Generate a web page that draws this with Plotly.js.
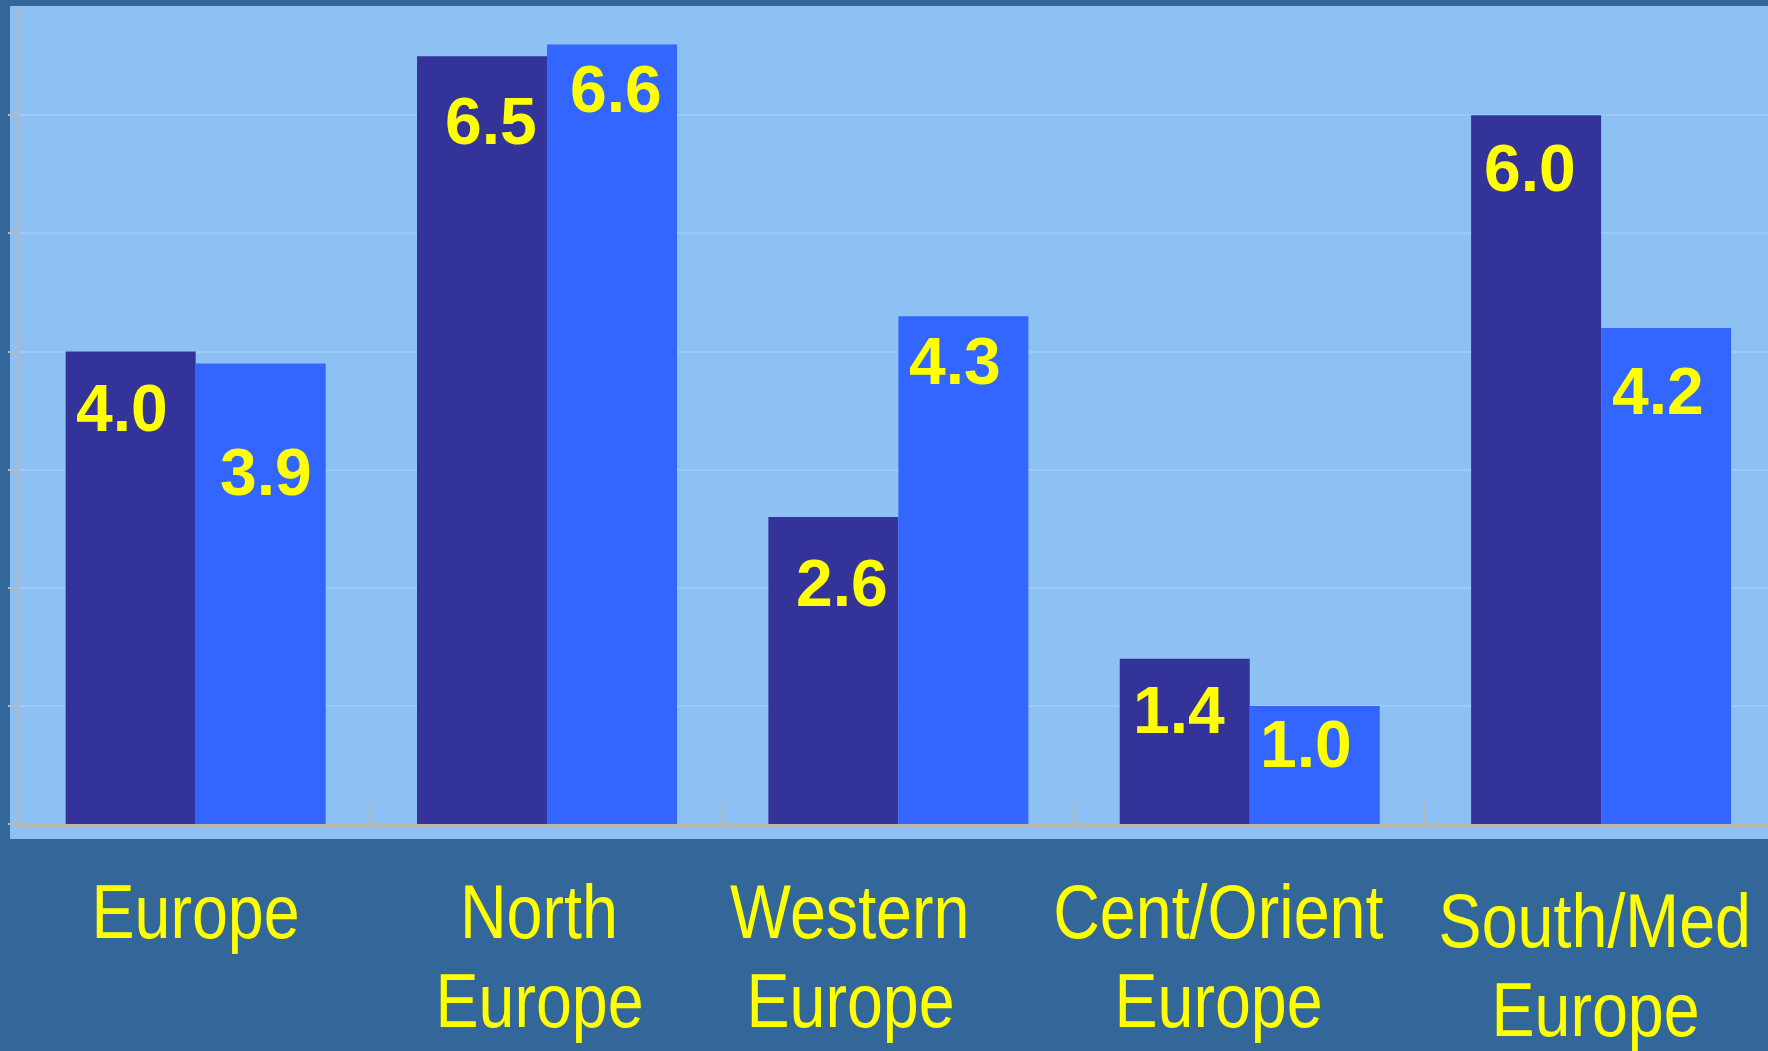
<!DOCTYPE html>
<html>
<head>
<meta charset="utf-8">
<script src="https://cdn.plot.ly/plotly-3.0.1.min.js"></script>
<style>
  html, body { margin: 0; padding: 0; background: #336699; }
  #chart { width: 1768px; height: 1051px; }
</style>
</head>
<body>
<div id="chart"></div>
<script>
// ---- data ----
const categories = ["Europe", "North Europe", "Western Europe", "Cent/Orient Europe", "South/Med Europe"];
const seriesDark = [4.0, 6.5, 2.6, 1.4, 6.0];
const seriesLight = [3.9, 6.6, 4.3, 1.0, 4.2];

// ---- label placement (pixels) ----
const darkNudge = [[-9, 56.5], [8.5, 65], [8.5, 66], [-6, 51.5], [-6, 52.5]];
const lightNudge = [[5, 109], [4, 44], [-8.5, 44.5], [-9, 38.5], [-8, 63.5]];
const catLabelShiftX = [0, -8, -48, -31, -6];
const catLabelShiftY = [0, 0, 0, 0, -9];
const NARROW = 0.85; // horizontal condensing of the category labels (narrow face look)

const yellow = "#FFFF00";
const gray = "#B8B8B8";
const BARGAP = 0.26;
const half = (1 - BARGAP) / 4; // centre offset of each bar in a group

const traces = [
  { type: "bar", name: "Series 1", x: categories, y: seriesDark,
    marker: { color: "#333399", line: { width: 0 } }, hoverinfo: "x+y" },
  { type: "bar", name: "Series 2", x: categories, y: seriesLight,
    marker: { color: "#3366FF", line: { width: 0 } }, hoverinfo: "x+y" }
];

const annotations = [];
const valueFont = { family: "Liberation Sans, Arial, sans-serif", size: 66, color: yellow, weight: "bold" };
[[seriesDark, -half, darkNudge], [seriesLight, half, lightNudge]].forEach(([vals, off, nudge]) => {
  vals.forEach((v, i) => {
    annotations.push({
      xref: "x", yref: "y", x: i + off, y: v,
      text: "<b>" + v.toFixed(1) + "</b>", showarrow: false,
      xanchor: "center", yanchor: "middle",
      xshift: nudge[i][0], yshift: -nudge[i][1],
      font: valueFont
    });
  });
});
const firstLabelIndex = annotations.length;

const labelFont = { family: "Liberation Sans, Arial, sans-serif", size: 76, color: yellow };
categories.forEach((c, i) => {
  const lines = c.split(" ");
  lines.forEach((ln, j) => {
    annotations.push({
      xref: "x", yref: "paper", x: i, y: 0,
      text: ln, showarrow: false, xanchor: "center", yanchor: "middle",
      xshift: catLabelShiftX[i], yshift: -87.7 - 89 * j + catLabelShiftY[i],
      font: labelFont
    });
  });
});

const layout = {
  width: 1768, height: 1051,
  margin: { l: 20, r: 0, t: 6, b: 227, pad: 0 },
  paper_bgcolor: "#336699",
  plot_bgcolor: "rgba(0,0,0,0)",
  showlegend: false,
  barmode: "group", bargap: BARGAP, bargroupgap: 0,
  xaxis: {
    type: "category", range: [-0.5, 4.475],
    tickson: "boundaries", ticks: "inside", ticklen: 21, tickwidth: 2, tickcolor: gray,
    showticklabels: false, showgrid: false, zeroline: false,
    showline: true, linecolor: gray, linewidth: 2.5, fixedrange: true
  },
  xaxis2: {
    overlaying: "x", anchor: "y", range: [-0.5, 4.475],
    tickmode: "array", tickvals: [0, 1, 2, 3, 4],
    ticks: "inside", ticklen: 16, tickwidth: 2, tickcolor: gray,
    showticklabels: false, showgrid: false, zeroline: false, showline: false
  },
  yaxis: {
    range: [0, 6.926], dtick: 1, tick0: 0,
    ticks: "outside", ticklen: 10, tickwidth: 2, tickcolor: gray,
    showticklabels: false, showgrid: true, gridcolor: "#9ACBFB", gridwidth: 2,
    zeroline: false, showline: true, linecolor: gray, linewidth: 2
  },
  shapes: [{
    type: "rect", xref: "paper", yref: "paper", layer: "below",
    x0: -0.00572, x1: 1.01, y0: -0.01834, y1: 1,
    fillcolor: "#8EC1F3", line: { width: 0 }
  }],
  annotations: annotations
};

Plotly.newPlot("chart", traces, layout, { staticPlot: true, displayModeBar: false }).then(gd => {
  // condense the category labels to mimic a narrow typeface
  gd.querySelectorAll("g.annotation").forEach(g => {
    const idx = +g.getAttribute("data-index");
    if (idx < firstLabelIndex) return;
    const t = g.querySelector("text.annotation-text");
    if (!t) return;
    const w = t.getComputedTextLength();
    const nw = w * NARROW;
    t.setAttribute("textLength", nw.toFixed(1));
    t.setAttribute("lengthAdjust", "spacingAndGlyphs");
    // keep the (invisible) annotation box in step with the condensed text
    const r = g.querySelector("rect.bg");
    if (r) {
      const rw = +r.getAttribute("width");
      const rx = +(r.getAttribute("x") || 0);
      const d = (w - nw);
      r.setAttribute("width", Math.max(0, rw - d).toFixed(1));
      r.setAttribute("x", (rx + d / 2).toFixed(1));
    }
  });
});
</script>
</body>
</html>
